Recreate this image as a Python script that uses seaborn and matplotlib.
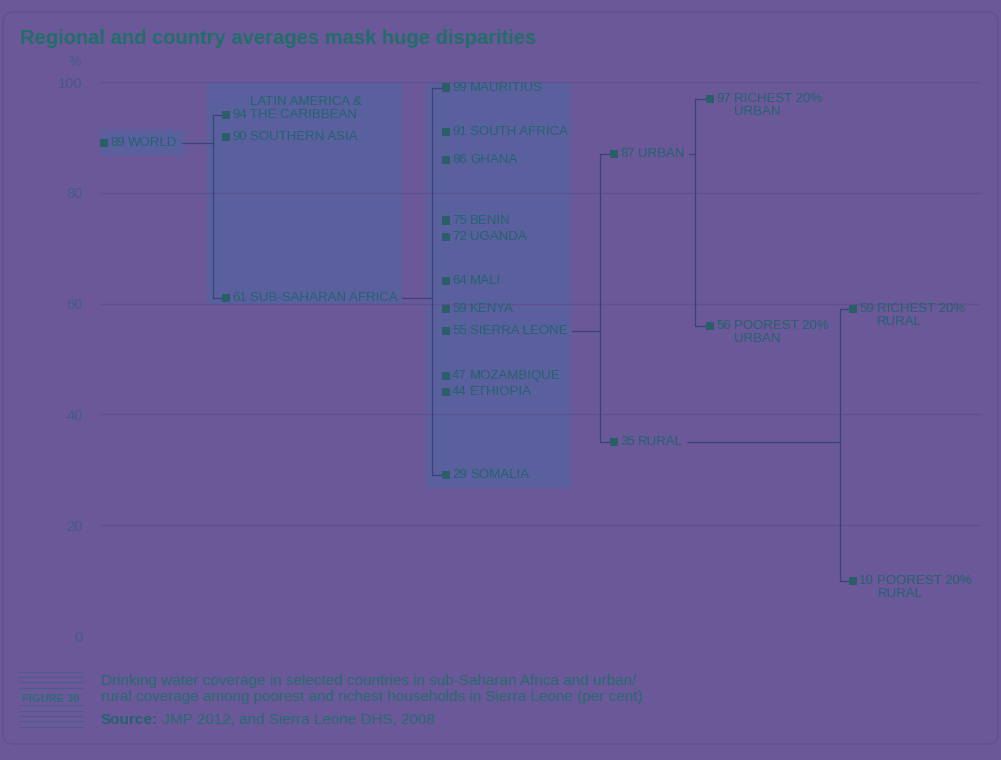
import matplotlib
matplotlib.use("Agg")
import matplotlib.pyplot as plt
import seaborn as sns
import pandas as pd
from matplotlib.patches import Rectangle, FancyBboxPatch

# data: coverage (%) per node, tree level and parent
names = ["WORLD",
         "LATIN AMERICA &\nTHE CARIBBEAN", "SOUTHERN ASIA", "SUB-SAHARAN AFRICA",
         "MAURITIUS", "SOUTH AFRICA", "GHANA", "BENIN", "UGANDA", "MALI", "KENYA",
         "SIERRA LEONE", "MOZAMBIQUE", "ETHIOPIA", "SOMALIA",
         "URBAN", "RURAL",
         "RICHEST 20%\nURBAN", "POOREST 20%\nURBAN",
         "RICHEST 20%\nRURAL", "POOREST 20%\nRURAL"]
values = [89,
          94, 90, 61,
          99, 91, 86, 75, 72, 64, 59, 55, 47, 44, 29,
          87, 35,
          97, 56,
          59, 10]
levels = [0, 1, 1, 1, 2, 2, 2, 2, 2, 2, 2, 2, 2, 2, 2, 3, 3, 4, 4, 5, 5]
parents = [None, 0, 0, 0, 3, 3, 3, 3, 3, 3, 3, 3, 3, 3, 3, 11, 11, 15, 15, 16, 16]
yticks = [0, 20, 40, 60, 80, 100]

# layout (pixel-like x units); bracket_x is indexed by child level - 1
col_x = [104, 226, 446, 614, 710, 853]
bracket_x = [213, 432, 600, 695, 840]
panels = [(100, 185, 86.8, 91.3), (207, 402, 59.7, 100), (427, 571, 26.7, 100)]

BG = "#6a5898"
GRID = "#5f5190"
TXT = "#24636e"
MARK = "#2a5f6a"
LINE = "#3a4377"
TICK = "#46588a"
PANEL = "#5a609e"
CAP = "#266b70"

sns.set_theme(style="white")
plt.rcParams["font.family"] = ["Liberation Sans", "DejaVu Sans"]
NARROW = ["Liberation Sans Narrow", "Liberation Sans", "DejaVu Sans"]

df = pd.DataFrame({"name": names, "value": values, "level": levels})
df["x"] = [col_x[l] for l in levels]

fig = plt.figure(figsize=(10.01, 7.6), dpi=100, facecolor=BG)
ax = fig.add_axes([100 / 1001, 124 / 760, 881 / 1001, 554 / 760])
ax.set_facecolor(BG)
ax.set_xlim(100, 981)
ax.set_ylim(0, 100)

for x0, x1, y0, y1 in panels:
    ax.add_patch(Rectangle((x0, y0), x1 - x0, y1 - y0, facecolor=PANEL,
                           edgecolor="none", zorder=0.5))

for t in yticks:
    ax.axhline(t, color=GRID, lw=1, zorder=0.6)
ax.set_yticks(yticks)
ax.set_yticklabels([str(t) for t in yticks], family=NARROW, fontsize=10.5, color=TICK)
ax.tick_params(axis="y", length=0, pad=12.5)
ax.set_xticks([])
for s in ax.spines.values():
    s.set_visible(False)
ax.text(-0.022, 1.036, "%", transform=ax.transAxes, ha="right", va="center",
        family=NARROW, fontsize=10, color=TICK)

sns.scatterplot(data=df, x="x", y="value", marker="s", s=34, color=MARK,
                edgecolor="none", ax=ax, zorder=3, legend=False)
ax.set_xlabel("")
ax.set_ylabel("")

name_texts = []
for i, row in df.iterrows():
    vt = ax.text(row["x"] + 6, row["value"], str(row["value"]), ha="left",
                 va="center", fontsize=9.5, color=TXT, zorder=4)
    above = row["name"].startswith("LATIN")
    nt = ax.annotate(row["name"], xy=(1, 0 if above else 1), xycoords=vt,
                     xytext=(2.6, 0), textcoords="offset points", ha="left",
                     va="bottom" if above else "top", fontsize=9.5, color=TXT,
                     linespacing=1.15, zorder=4)
    name_texts.append(nt)

fig.canvas.draw()
inv = ax.transData.inverted()

# tree connectors
for p in sorted(set(q for q in parents if q is not None)):
    kids = [i for i, q in enumerate(parents) if q == p]
    kid_level = levels[kids[0]]
    bx = bracket_x[kid_level - 1]
    cx = col_x[kid_level]
    ext = name_texts[p].get_window_extent()
    x_end = inv.transform((ext.x1, ext.y0))[0]
    vp = values[p]
    ax.plot([x_end + 4, bx], [vp, vp], color=LINE, lw=0.9, zorder=2)
    kv = [values[k] for k in kids]
    ax.plot([bx, bx], [min(kv), max(kv)], color=LINE, lw=0.9, zorder=2)
    for v in (min(kv), max(kv)):
        ax.plot([bx, cx - 4], [v, v], color=LINE, lw=0.9, zorder=2)

fig.text(20 / 1001, 1 - 39 / 760, "Regional and country averages mask huge disparities",
         ha="left", va="center", fontsize=14.5, fontweight="bold", color="#216f68")

# caption block
for yy in [672, 677, 682, 688, 705, 711, 716, 721, 727]:
    fig.add_artist(plt.Line2D([19 / 1001, 83 / 1001], [1 - yy / 760, 1 - yy / 760],
                              color="#4e5b8a", lw=0.8))
fig.text(51 / 1001, 1 - 699 / 760, "FIGURE 30", ha="center", va="center",
         family=NARROW, fontsize=8, fontweight="bold", color="#2a6c78")
fig.text(101 / 1001, 1 - 689 / 760,
         "Drinking water coverage in selected countries in sub-Saharan Africa and urban/\n"
         "rural coverage among poorest and richest households in Sierra Leone (per cent)",
         ha="left", va="center", family=NARROW, fontsize=11, color=CAP,
         linespacing=1.25)
src = fig.text(101 / 1001, 1 - 720 / 760, "Source:", ha="left", va="center",
               family=NARROW, fontsize=11, fontweight="bold", color=TXT)
ax.annotate(" JMP 2012, and Sierra Leone DHS, 2008", xy=(1, 0.5), xycoords=src,
            ha="left", va="center", family=NARROW, fontsize=11, color=CAP,
            annotation_clip=False)

fig.add_artist(FancyBboxPatch((3 / 1001, 1 - 744 / 760), 995 / 1001, 732 / 760,
                              boxstyle="round,pad=0,rounding_size=0.012",
                              transform=fig.transFigure, facecolor="none",
                              edgecolor="#5d5290", lw=1))

fig.savefig("out.png", dpi=100, facecolor=BG)
